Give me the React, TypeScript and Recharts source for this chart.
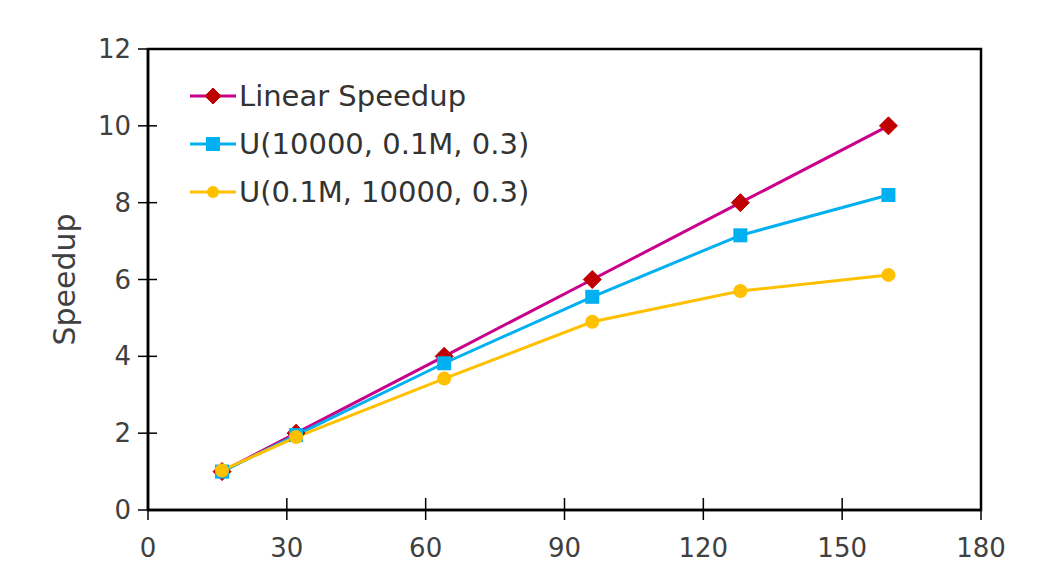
import React from 'react';
import { LineChart, Line, XAxis, YAxis, Legend, ReferenceArea, Label } from 'recharts';

const processors = [16, 32, 64, 96, 128, 160];
const linearSpeedup = [1, 2, 4, 6, 8, 10];
const u10000 = [1.0, 1.95, 3.82, 5.55, 7.15, 8.2];
const u01M = [1.03, 1.9, 3.42, 4.9, 5.7, 6.12];
const xTicks = [0, 30, 60, 90, 120, 150, 180];
const yTicks = [0, 2, 4, 6, 8, 10, 12];
const seriesNames = ['Linear Speedup', 'U(10000, 0.1M, 0.3)', 'U(0.1M, 10000, 0.3)'];

const data = processors.map((p, i) => ({ x: p, linear: linearSpeedup[i], a: u10000[i], b: u01M[i] }));

const FONT = '"DejaVu Sans", sans-serif';
const C_LIN = '#C8008C';
const C_DIA = '#C00000';
const C_BLUE = '#00B0F0';
const C_YEL = '#FFC000';

const Diamond = ({ cx, cy, s = 9 }: any) => (
  <path d={`M${cx},${cy - s} L${cx + s},${cy} L${cx},${cy + s} L${cx - s},${cy} Z`} fill={C_DIA} stroke={C_DIA} strokeWidth={1} />
);
const Square = ({ cx, cy, s = 7 }: any) => (
  <rect x={cx - s} y={cy - s} width={2 * s} height={2 * s} fill={C_BLUE} />
);
const Circle = ({ cx, cy, r = 7 }: any) => <circle cx={cx} cy={cy} r={r} fill={C_YEL} />;

const YTick = (props: any) => {
  const { x, y, payload } = props;
  const ax = x + 17;
  return (
    <g>
      <line x1={ax - 10} x2={ax + 9} y1={y} y2={y} stroke="#000" strokeWidth={1.5} />
      <text x={x} y={y} textAnchor="end" dominantBaseline="central" fontFamily={FONT} fontSize={26} fill="#404040">
        {payload.value}
      </text>
    </g>
  );
};

const XTick = (props: any) => {
  const { x, y, payload } = props;
  const ay = y - 28;
  return (
    <g>
      <line x1={x} x2={x} y1={ay - 12} y2={ay + 10} stroke="#000" strokeWidth={1.5} />
      <text x={x} y={y} dy="0.73em" textAnchor="middle" fontFamily={FONT} fontSize={26} fill="#404040">
        {payload.value}
      </text>
    </g>
  );
};

const markers = [
  (cx: number, cy: number) => <Diamond cx={cx} cy={cy} s={8} />,
  (cx: number, cy: number) => <Square cx={cx} cy={cy} s={7} />,
  (cx: number, cy: number) => <Circle cx={cx} cy={cy} r={6} />,
];
const legendColors = [C_LIN, C_BLUE, C_YEL];

const LegendContent = () => (
  <div style={{ fontFamily: FONT }}>
    {seriesNames.map((n, i) => (
      <div key={n} style={{ display: 'flex', alignItems: 'center', height: 48 }}>
        <svg width={50} height={24} style={{ display: 'block' }}>
          <line x1={2} x2={48} y1={12} y2={12} stroke={legendColors[i]} strokeWidth={3} />
          {markers[i](25, 12)}
        </svg>
        <span style={{ fontSize: 29, color: '#333', marginLeft: 1, whiteSpace: 'nowrap', lineHeight: '48px' }}>{n}</span>
      </div>
    ))}
  </div>
);

export default function App() {
  return (
    <div style={{ position: 'absolute', left: 0, top: 0, width: 1042, height: 567, background: '#fff' }}>
      <LineChart width={1042} height={567} data={data} margin={{ top: 49, right: 61, bottom: 7, left: 68 }}>
        <ReferenceArea x1={0} x2={180} y1={0} y2={12} fill="none" stroke="#000" strokeWidth={2.5} ifOverflow="visible" />
        <XAxis
          dataKey="x"
          type="number"
          domain={[0, 180]}
          ticks={xTicks}
          height={50}
          tickSize={8}
          tickMargin={20}
          tickLine={false}
          axisLine={{ stroke: '#000', strokeWidth: 2.5 }}
          tick={<XTick />}
          interval={0}
        />
        <YAxis
          type="number"
          domain={[0, 12]}
          ticks={yTicks}
          width={80}
          tickSize={8}
          tickMargin={9}
          tickLine={false}
          axisLine={{ stroke: '#000', strokeWidth: 2.5 }}
          tick={<YTick />}
          interval={0}
        >
          <Label
            content={(p: any) => {
              const vb = p.viewBox || { x: 68, y: 49, width: 80, height: 461 };
              const cx = vb.x - 4;
              const cy = vb.y + vb.height / 2;
              return (
                <text x={cx} y={cy} transform={`rotate(-90 ${cx} ${cy})`} textAnchor="middle" dominantBaseline="central" fontFamily={FONT} fontSize={30} fill="#404040">
                  Speedup
                </text>
              );
            }}
          />
        </YAxis>
        <Legend
          layout="horizontal"
          verticalAlign="middle"
          align="center"
          content={<LegendContent />}
          wrapperStyle={{ left: 188, top: 72, width: 'auto', height: 'auto' }}
        />
        <Line
          dataKey="linear"
          name={seriesNames[0]}
          stroke={C_LIN}
          strokeWidth={3}
          isAnimationActive={false}
          dot={(p: any) => <Diamond key={`d${p.index}`} cx={p.cx} cy={p.cy} />}
        />
        <Line
          dataKey="a"
          name={seriesNames[1]}
          stroke={C_BLUE}
          strokeWidth={3}
          isAnimationActive={false}
          dot={(p: any) => <Square key={`s${p.index}`} cx={p.cx} cy={p.cy} />}
        />
        <Line
          dataKey="b"
          name={seriesNames[2]}
          stroke={C_YEL}
          strokeWidth={3}
          isAnimationActive={false}
          dot={(p: any) => <Circle key={`c${p.index}`} cx={p.cx} cy={p.cy} />}
        />
      </LineChart>
    </div>
  );
}
